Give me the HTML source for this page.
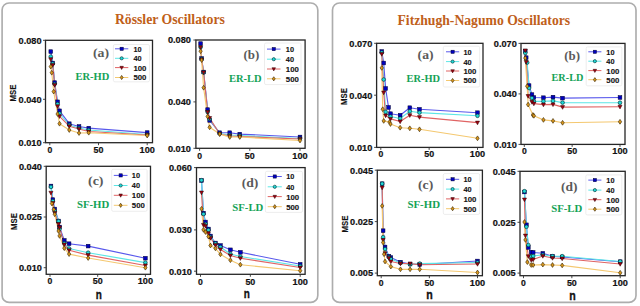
<!DOCTYPE html>
<html><head><meta charset="utf-8"><style>
html,body{margin:0;padding:0;background:#fff;width:640px;height:306px;overflow:hidden}
svg{display:block}
</style></head><body>
<svg width="640" height="306" viewBox="0 0 640 306">
<rect x="0" y="0" width="640" height="306" fill="#fff"/>
<rect x="2.1" y="2.95" width="315.7" height="299.45" rx="7" fill="none" stroke="#adadad" stroke-width="1.65"/>
<rect x="332.5" y="2.95" width="303.5" height="299.45" rx="7" fill="none" stroke="#adadad" stroke-width="1.65"/>
<text x="114.9" y="23.5" font-family='"Liberation Serif", serif' font-size="14.1" font-weight="bold" fill="#c0601a" textLength="110" lengthAdjust="spacingAndGlyphs">Rössler Oscillators</text>
<text x="397.5" y="25.2" font-family='"Liberation Serif", serif' font-size="14.1" font-weight="bold" fill="#c0601a" textLength="172.6" lengthAdjust="spacingAndGlyphs">Fitzhugh-Nagumo Oscillators</text>
<path d="M50.77,51.60 L52.72,63.00 L54.67,82.60 L57.59,101.80 L59.54,110.80 L69.28,123.70 L79.02,126.50 L88.76,128.10 L147.20,132.60" fill="none" stroke="#5858ec" stroke-width="1.15" stroke-linejoin="round"/>
<path d="M50.77,56.60 L52.72,63.60 L54.67,84.00 L57.59,104.00 L59.54,113.50 L69.28,125.00 L79.02,128.00 L88.76,130.00 L147.20,134.50" fill="none" stroke="#5ce6e6" stroke-width="1.15" stroke-linejoin="round"/>
<path d="M50.77,59.30 L52.72,65.00 L54.67,85.00 L57.59,106.20 L59.54,116.30 L69.28,126.20 L79.02,129.00 L88.76,131.50 L147.20,135.00" fill="none" stroke="#e06464" stroke-width="1.15" stroke-linejoin="round"/>
<path d="M50.77,66.60 L51.75,72.70 L53.70,91.60 L57.59,114.00 L59.54,123.70 L69.28,130.00 L79.02,133.00 L88.76,132.70 L147.20,135.50" fill="none" stroke="#f4c870" stroke-width="1.15" stroke-linejoin="round"/>
<rect x="48.92" y="49.75" width="3.70" height="3.70" fill="#0000c0" stroke="#000030" stroke-width="0.5"/>
<rect x="50.87" y="61.15" width="3.70" height="3.70" fill="#0000c0" stroke="#000030" stroke-width="0.5"/>
<rect x="52.82" y="80.75" width="3.70" height="3.70" fill="#0000c0" stroke="#000030" stroke-width="0.5"/>
<rect x="55.74" y="99.95" width="3.70" height="3.70" fill="#0000c0" stroke="#000030" stroke-width="0.5"/>
<rect x="57.69" y="108.95" width="3.70" height="3.70" fill="#0000c0" stroke="#000030" stroke-width="0.5"/>
<rect x="67.43" y="121.85" width="3.70" height="3.70" fill="#0000c0" stroke="#000030" stroke-width="0.5"/>
<rect x="77.17" y="124.65" width="3.70" height="3.70" fill="#0000c0" stroke="#000030" stroke-width="0.5"/>
<rect x="86.91" y="126.25" width="3.70" height="3.70" fill="#0000c0" stroke="#000030" stroke-width="0.5"/>
<rect x="145.35" y="130.75" width="3.70" height="3.70" fill="#0000c0" stroke="#000030" stroke-width="0.5"/>
<circle cx="50.77" cy="56.60" r="1.85" fill="#20d8d8" stroke="#002828" stroke-width="0.6"/>
<circle cx="52.72" cy="63.60" r="1.85" fill="#20d8d8" stroke="#002828" stroke-width="0.6"/>
<circle cx="54.67" cy="84.00" r="1.85" fill="#20d8d8" stroke="#002828" stroke-width="0.6"/>
<circle cx="57.59" cy="104.00" r="1.85" fill="#20d8d8" stroke="#002828" stroke-width="0.6"/>
<circle cx="59.54" cy="113.50" r="1.85" fill="#20d8d8" stroke="#002828" stroke-width="0.6"/>
<circle cx="69.28" cy="125.00" r="1.85" fill="#20d8d8" stroke="#002828" stroke-width="0.6"/>
<circle cx="79.02" cy="128.00" r="1.85" fill="#20d8d8" stroke="#002828" stroke-width="0.6"/>
<circle cx="88.76" cy="130.00" r="1.85" fill="#20d8d8" stroke="#002828" stroke-width="0.6"/>
<circle cx="147.20" cy="134.50" r="1.85" fill="#20d8d8" stroke="#002828" stroke-width="0.6"/>
<path d="M48.74,57.82 L52.81,57.82 L50.77,61.52 Z" fill="#a00010" stroke="#280000" stroke-width="0.5"/>
<path d="M50.69,63.52 L54.76,63.52 L52.72,67.22 Z" fill="#a00010" stroke="#280000" stroke-width="0.5"/>
<path d="M52.63,83.52 L56.70,83.52 L54.67,87.22 Z" fill="#a00010" stroke="#280000" stroke-width="0.5"/>
<path d="M55.56,104.72 L59.63,104.72 L57.59,108.42 Z" fill="#a00010" stroke="#280000" stroke-width="0.5"/>
<path d="M57.50,114.82 L61.58,114.82 L59.54,118.52 Z" fill="#a00010" stroke="#280000" stroke-width="0.5"/>
<path d="M67.25,124.72 L71.31,124.72 L69.28,128.42 Z" fill="#a00010" stroke="#280000" stroke-width="0.5"/>
<path d="M76.98,127.52 L81.05,127.52 L79.02,131.22 Z" fill="#a00010" stroke="#280000" stroke-width="0.5"/>
<path d="M86.72,130.02 L90.79,130.02 L88.76,133.72 Z" fill="#a00010" stroke="#280000" stroke-width="0.5"/>
<path d="M145.16,133.52 L149.23,133.52 L147.20,137.22 Z" fill="#a00010" stroke="#280000" stroke-width="0.5"/>
<path d="M50.77,64.19 L52.44,66.60 L50.77,69.00 L49.11,66.60 Z" fill="#d8961c" stroke="#302000" stroke-width="0.6"/>
<path d="M51.75,70.30 L53.41,72.70 L51.75,75.11 L50.08,72.70 Z" fill="#d8961c" stroke="#302000" stroke-width="0.6"/>
<path d="M53.70,89.19 L55.36,91.60 L53.70,94.00 L52.03,91.60 Z" fill="#d8961c" stroke="#302000" stroke-width="0.6"/>
<path d="M57.59,111.59 L59.26,114.00 L57.59,116.41 L55.93,114.00 Z" fill="#d8961c" stroke="#302000" stroke-width="0.6"/>
<path d="M59.54,121.30 L61.20,123.70 L59.54,126.11 L57.88,123.70 Z" fill="#d8961c" stroke="#302000" stroke-width="0.6"/>
<path d="M69.28,127.59 L70.95,130.00 L69.28,132.41 L67.61,130.00 Z" fill="#d8961c" stroke="#302000" stroke-width="0.6"/>
<path d="M79.02,130.59 L80.69,133.00 L79.02,135.41 L77.35,133.00 Z" fill="#d8961c" stroke="#302000" stroke-width="0.6"/>
<path d="M88.76,130.29 L90.42,132.70 L88.76,135.10 L87.09,132.70 Z" fill="#d8961c" stroke="#302000" stroke-width="0.6"/>
<path d="M147.20,133.09 L148.86,135.50 L147.20,137.91 L145.53,135.50 Z" fill="#d8961c" stroke="#302000" stroke-width="0.6"/>
<rect x="45.50" y="40.30" width="107.00" height="102.40" fill="none" stroke="#262626" stroke-width="1.3"/>
<line x1="49.80" y1="142.70" x2="49.80" y2="145.20" stroke="#333" stroke-width="0.9"/>
<text x="49.80" y="153.05" font-family='"Liberation Sans", sans-serif' font-size="8.3" font-weight="bold" fill="#111" text-anchor="middle" stroke="#111" stroke-width="0.18" textLength="4.80" lengthAdjust="spacingAndGlyphs" >0</text>
<line x1="98.50" y1="142.70" x2="98.50" y2="145.20" stroke="#333" stroke-width="0.9"/>
<text x="98.50" y="153.05" font-family='"Liberation Sans", sans-serif' font-size="8.3" font-weight="bold" fill="#111" text-anchor="middle" stroke="#111" stroke-width="0.18" textLength="9.90" lengthAdjust="spacingAndGlyphs" >50</text>
<line x1="147.20" y1="142.70" x2="147.20" y2="145.20" stroke="#333" stroke-width="0.9"/>
<text x="147.20" y="153.05" font-family='"Liberation Sans", sans-serif' font-size="8.3" font-weight="bold" fill="#111" text-anchor="middle" stroke="#111" stroke-width="0.18" textLength="15.30" lengthAdjust="spacingAndGlyphs" >100</text>
<line x1="43.00" y1="40.30" x2="45.50" y2="40.30" stroke="#333" stroke-width="0.9"/>
<text x="41.60" y="43.60" font-family='"Liberation Sans", sans-serif' font-size="8.3" font-weight="bold" fill="#111" text-anchor="end" stroke="#111" stroke-width="0.18" textLength="23.00" lengthAdjust="spacingAndGlyphs" >0.080</text>
<line x1="43.00" y1="99.30" x2="45.50" y2="99.30" stroke="#333" stroke-width="0.9"/>
<text x="41.60" y="102.60" font-family='"Liberation Sans", sans-serif' font-size="8.3" font-weight="bold" fill="#111" text-anchor="end" stroke="#111" stroke-width="0.18" textLength="23.00" lengthAdjust="spacingAndGlyphs" >0.040</text>
<line x1="43.00" y1="142.70" x2="45.50" y2="142.70" stroke="#333" stroke-width="0.9"/>
<text x="41.60" y="146.00" font-family='"Liberation Sans", sans-serif' font-size="8.3" font-weight="bold" fill="#111" text-anchor="end" stroke="#111" stroke-width="0.18" textLength="23.00" lengthAdjust="spacingAndGlyphs" >0.010</text>
<rect x="113.40" y="44.50" width="36.10" height="37.30" rx="1.5" fill="#fff" fill-opacity="0.85" stroke="#e8e8e8" stroke-width="0.8"/>
<line x1="115.00" y1="48.80" x2="128.30" y2="48.80" stroke="#5858ec" stroke-width="1"/>
<rect x="120.05" y="47.20" width="3.20" height="3.20" fill="#0000c0" stroke="#000030" stroke-width="0.5"/>
<text x="133.40" y="51.70" font-family='"Liberation Sans", sans-serif' font-size="8.1" font-weight="bold" fill="#111" text-anchor="start" stroke="#111" stroke-width="0.12" textLength="8.20" lengthAdjust="spacingAndGlyphs" >10</text>
<line x1="115.00" y1="58.30" x2="128.30" y2="58.30" stroke="#5ce6e6" stroke-width="1"/>
<circle cx="121.65" cy="58.30" r="1.60" fill="#20d8d8" stroke="#002828" stroke-width="0.6"/>
<text x="133.40" y="61.20" font-family='"Liberation Sans", sans-serif' font-size="8.1" font-weight="bold" fill="#111" text-anchor="start" stroke="#111" stroke-width="0.12" textLength="8.20" lengthAdjust="spacingAndGlyphs" >40</text>
<line x1="115.00" y1="67.60" x2="128.30" y2="67.60" stroke="#e06464" stroke-width="1"/>
<path d="M119.89,66.32 L123.41,66.32 L121.65,69.52 Z" fill="#a00010" stroke="#280000" stroke-width="0.5"/>
<text x="133.40" y="70.50" font-family='"Liberation Sans", sans-serif' font-size="8.1" font-weight="bold" fill="#111" text-anchor="start" stroke="#111" stroke-width="0.12" textLength="13.00" lengthAdjust="spacingAndGlyphs" >100</text>
<line x1="115.00" y1="77.50" x2="128.30" y2="77.50" stroke="#f4c870" stroke-width="1"/>
<path d="M121.65,75.42 L123.09,77.50 L121.65,79.58 L120.21,77.50 Z" fill="#d8961c" stroke="#302000" stroke-width="0.6"/>
<text x="133.40" y="80.40" font-family='"Liberation Sans", sans-serif' font-size="8.1" font-weight="bold" fill="#111" text-anchor="start" stroke="#111" stroke-width="0.12" textLength="13.00" lengthAdjust="spacingAndGlyphs" >500</text>
<text x="92.90" y="57.20" font-family='"Liberation Serif", serif' font-size="13" font-weight="bold" fill="#5a5a5a" text-anchor="start" textLength="16.10" lengthAdjust="spacingAndGlyphs" >(a)</text>
<text x="75.50" y="79.60" font-family='"Liberation Serif", serif' font-size="11.2" font-weight="bold" fill="#14a256" text-anchor="start" textLength="33.80" lengthAdjust="spacingAndGlyphs" >ER-HD</text>
<text x="0" y="0" transform="translate(15.50,93.00) rotate(-90)" font-family='"Liberation Sans", sans-serif' font-size="8.2" font-weight="bold" fill="#111" stroke="#111" stroke-width="0.15" text-anchor="middle" textLength="16.8" lengthAdjust="spacingAndGlyphs">MSE</text>
<path d="M200.60,43.60 L201.61,58.50 L203.62,72.00 L207.63,109.60 L209.64,120.40 L219.68,132.70 L229.72,132.70 L239.76,134.10 L300.00,137.00" fill="none" stroke="#5858ec" stroke-width="1.15" stroke-linejoin="round"/>
<path d="M200.60,47.20 L201.61,59.00 L203.62,72.40 L207.63,112.00 L209.64,119.00 L219.68,133.50 L229.72,135.00 L239.76,135.50 L300.00,138.50" fill="none" stroke="#5ce6e6" stroke-width="1.15" stroke-linejoin="round"/>
<path d="M200.60,47.20 L201.61,59.50 L203.62,72.40 L207.63,112.00 L209.64,118.00 L219.68,134.00 L229.72,136.00 L239.76,136.50 L300.00,139.00" fill="none" stroke="#e06464" stroke-width="1.15" stroke-linejoin="round"/>
<path d="M200.60,51.20 L201.61,60.10 L203.62,87.70 L207.63,116.50 L209.64,127.30 L219.68,134.10 L229.72,137.00 L239.76,137.00 L300.00,140.50" fill="none" stroke="#f4c870" stroke-width="1.15" stroke-linejoin="round"/>
<rect x="198.75" y="41.75" width="3.70" height="3.70" fill="#0000c0" stroke="#000030" stroke-width="0.5"/>
<rect x="199.76" y="56.65" width="3.70" height="3.70" fill="#0000c0" stroke="#000030" stroke-width="0.5"/>
<rect x="201.77" y="70.15" width="3.70" height="3.70" fill="#0000c0" stroke="#000030" stroke-width="0.5"/>
<rect x="205.78" y="107.75" width="3.70" height="3.70" fill="#0000c0" stroke="#000030" stroke-width="0.5"/>
<rect x="207.79" y="118.55" width="3.70" height="3.70" fill="#0000c0" stroke="#000030" stroke-width="0.5"/>
<rect x="217.83" y="130.85" width="3.70" height="3.70" fill="#0000c0" stroke="#000030" stroke-width="0.5"/>
<rect x="227.87" y="130.85" width="3.70" height="3.70" fill="#0000c0" stroke="#000030" stroke-width="0.5"/>
<rect x="237.91" y="132.25" width="3.70" height="3.70" fill="#0000c0" stroke="#000030" stroke-width="0.5"/>
<rect x="298.15" y="135.15" width="3.70" height="3.70" fill="#0000c0" stroke="#000030" stroke-width="0.5"/>
<circle cx="200.60" cy="47.20" r="1.85" fill="#20d8d8" stroke="#002828" stroke-width="0.6"/>
<circle cx="201.61" cy="59.00" r="1.85" fill="#20d8d8" stroke="#002828" stroke-width="0.6"/>
<circle cx="203.62" cy="72.40" r="1.85" fill="#20d8d8" stroke="#002828" stroke-width="0.6"/>
<circle cx="207.63" cy="112.00" r="1.85" fill="#20d8d8" stroke="#002828" stroke-width="0.6"/>
<circle cx="209.64" cy="119.00" r="1.85" fill="#20d8d8" stroke="#002828" stroke-width="0.6"/>
<circle cx="219.68" cy="133.50" r="1.85" fill="#20d8d8" stroke="#002828" stroke-width="0.6"/>
<circle cx="229.72" cy="135.00" r="1.85" fill="#20d8d8" stroke="#002828" stroke-width="0.6"/>
<circle cx="239.76" cy="135.50" r="1.85" fill="#20d8d8" stroke="#002828" stroke-width="0.6"/>
<circle cx="300.00" cy="138.50" r="1.85" fill="#20d8d8" stroke="#002828" stroke-width="0.6"/>
<path d="M198.57,45.72 L202.64,45.72 L200.60,49.42 Z" fill="#a00010" stroke="#280000" stroke-width="0.5"/>
<path d="M199.57,58.02 L203.64,58.02 L201.61,61.72 Z" fill="#a00010" stroke="#280000" stroke-width="0.5"/>
<path d="M201.58,70.92 L205.65,70.92 L203.62,74.62 Z" fill="#a00010" stroke="#280000" stroke-width="0.5"/>
<path d="M205.60,110.52 L209.67,110.52 L207.63,114.22 Z" fill="#a00010" stroke="#280000" stroke-width="0.5"/>
<path d="M207.60,116.52 L211.67,116.52 L209.64,120.22 Z" fill="#a00010" stroke="#280000" stroke-width="0.5"/>
<path d="M217.65,132.52 L221.72,132.52 L219.68,136.22 Z" fill="#a00010" stroke="#280000" stroke-width="0.5"/>
<path d="M227.69,134.52 L231.75,134.52 L229.72,138.22 Z" fill="#a00010" stroke="#280000" stroke-width="0.5"/>
<path d="M237.72,135.02 L241.79,135.02 L239.76,138.72 Z" fill="#a00010" stroke="#280000" stroke-width="0.5"/>
<path d="M297.96,137.52 L302.04,137.52 L300.00,141.22 Z" fill="#a00010" stroke="#280000" stroke-width="0.5"/>
<path d="M200.60,48.80 L202.27,51.20 L200.60,53.61 L198.94,51.20 Z" fill="#d8961c" stroke="#302000" stroke-width="0.6"/>
<path d="M201.61,57.70 L203.27,60.10 L201.61,62.51 L199.94,60.10 Z" fill="#d8961c" stroke="#302000" stroke-width="0.6"/>
<path d="M203.62,85.30 L205.28,87.70 L203.62,90.11 L201.95,87.70 Z" fill="#d8961c" stroke="#302000" stroke-width="0.6"/>
<path d="M207.63,114.09 L209.30,116.50 L207.63,118.91 L205.97,116.50 Z" fill="#d8961c" stroke="#302000" stroke-width="0.6"/>
<path d="M209.64,124.89 L211.30,127.30 L209.64,129.70 L207.97,127.30 Z" fill="#d8961c" stroke="#302000" stroke-width="0.6"/>
<path d="M219.68,131.69 L221.34,134.10 L219.68,136.50 L218.02,134.10 Z" fill="#d8961c" stroke="#302000" stroke-width="0.6"/>
<path d="M229.72,134.59 L231.38,137.00 L229.72,139.41 L228.06,137.00 Z" fill="#d8961c" stroke="#302000" stroke-width="0.6"/>
<path d="M239.76,134.59 L241.42,137.00 L239.76,139.41 L238.09,137.00 Z" fill="#d8961c" stroke="#302000" stroke-width="0.6"/>
<path d="M300.00,138.09 L301.67,140.50 L300.00,142.91 L298.33,140.50 Z" fill="#d8961c" stroke="#302000" stroke-width="0.6"/>
<rect x="195.90" y="40.00" width="109.20" height="108.30" fill="none" stroke="#262626" stroke-width="1.3"/>
<line x1="199.60" y1="148.30" x2="199.60" y2="150.80" stroke="#333" stroke-width="0.9"/>
<text x="199.60" y="158.65" font-family='"Liberation Sans", sans-serif' font-size="8.3" font-weight="bold" fill="#111" text-anchor="middle" stroke="#111" stroke-width="0.18" textLength="4.80" lengthAdjust="spacingAndGlyphs" >0</text>
<line x1="249.80" y1="148.30" x2="249.80" y2="150.80" stroke="#333" stroke-width="0.9"/>
<text x="249.80" y="158.65" font-family='"Liberation Sans", sans-serif' font-size="8.3" font-weight="bold" fill="#111" text-anchor="middle" stroke="#111" stroke-width="0.18" textLength="9.90" lengthAdjust="spacingAndGlyphs" >50</text>
<line x1="300.00" y1="148.30" x2="300.00" y2="150.80" stroke="#333" stroke-width="0.9"/>
<text x="300.00" y="158.65" font-family='"Liberation Sans", sans-serif' font-size="8.3" font-weight="bold" fill="#111" text-anchor="middle" stroke="#111" stroke-width="0.18" textLength="15.30" lengthAdjust="spacingAndGlyphs" >100</text>
<line x1="193.40" y1="40.00" x2="195.90" y2="40.00" stroke="#333" stroke-width="0.9"/>
<text x="190.90" y="43.30" font-family='"Liberation Sans", sans-serif' font-size="8.3" font-weight="bold" fill="#111" text-anchor="end" stroke="#111" stroke-width="0.18" textLength="23.00" lengthAdjust="spacingAndGlyphs" >0.080</text>
<line x1="193.40" y1="101.90" x2="195.90" y2="101.90" stroke="#333" stroke-width="0.9"/>
<text x="190.90" y="105.20" font-family='"Liberation Sans", sans-serif' font-size="8.3" font-weight="bold" fill="#111" text-anchor="end" stroke="#111" stroke-width="0.18" textLength="23.00" lengthAdjust="spacingAndGlyphs" >0.040</text>
<line x1="193.40" y1="148.30" x2="195.90" y2="148.30" stroke="#333" stroke-width="0.9"/>
<text x="190.90" y="151.60" font-family='"Liberation Sans", sans-serif' font-size="8.3" font-weight="bold" fill="#111" text-anchor="end" stroke="#111" stroke-width="0.18" textLength="23.00" lengthAdjust="spacingAndGlyphs" >0.010</text>
<rect x="264.50" y="43.00" width="36.50" height="41.60" rx="1.5" fill="#fff" fill-opacity="0.85" stroke="#e8e8e8" stroke-width="0.8"/>
<line x1="267.00" y1="49.10" x2="280.50" y2="49.10" stroke="#5858ec" stroke-width="1"/>
<rect x="272.15" y="47.50" width="3.20" height="3.20" fill="#0000c0" stroke="#000030" stroke-width="0.5"/>
<text x="285.80" y="52.00" font-family='"Liberation Sans", sans-serif' font-size="8.1" font-weight="bold" fill="#111" text-anchor="start" stroke="#111" stroke-width="0.12" textLength="8.20" lengthAdjust="spacingAndGlyphs" >10</text>
<line x1="267.00" y1="59.20" x2="280.50" y2="59.20" stroke="#5ce6e6" stroke-width="1"/>
<circle cx="273.75" cy="59.20" r="1.60" fill="#20d8d8" stroke="#002828" stroke-width="0.6"/>
<text x="285.80" y="62.10" font-family='"Liberation Sans", sans-serif' font-size="8.1" font-weight="bold" fill="#111" text-anchor="start" stroke="#111" stroke-width="0.12" textLength="8.20" lengthAdjust="spacingAndGlyphs" >40</text>
<line x1="267.00" y1="69.00" x2="280.50" y2="69.00" stroke="#e06464" stroke-width="1"/>
<path d="M271.99,67.72 L275.51,67.72 L273.75,70.92 Z" fill="#a00010" stroke="#280000" stroke-width="0.5"/>
<text x="285.80" y="71.90" font-family='"Liberation Sans", sans-serif' font-size="8.1" font-weight="bold" fill="#111" text-anchor="start" stroke="#111" stroke-width="0.12" textLength="13.00" lengthAdjust="spacingAndGlyphs" >100</text>
<line x1="267.00" y1="78.80" x2="280.50" y2="78.80" stroke="#f4c870" stroke-width="1"/>
<path d="M273.75,76.72 L275.19,78.80 L273.75,80.88 L272.31,78.80 Z" fill="#d8961c" stroke="#302000" stroke-width="0.6"/>
<text x="285.80" y="81.70" font-family='"Liberation Sans", sans-serif' font-size="8.1" font-weight="bold" fill="#111" text-anchor="start" stroke="#111" stroke-width="0.12" textLength="13.00" lengthAdjust="spacingAndGlyphs" >500</text>
<text x="243.40" y="58.70" font-family='"Liberation Serif", serif' font-size="13" font-weight="bold" fill="#5a5a5a" text-anchor="start" textLength="15.80" lengthAdjust="spacingAndGlyphs" >(b)</text>
<text x="229.00" y="82.10" font-family='"Liberation Serif", serif' font-size="11.2" font-weight="bold" fill="#14a256" text-anchor="start" textLength="32.70" lengthAdjust="spacingAndGlyphs" >ER-LD</text>
<path d="M50.95,186.00 L52.86,199.60 L54.77,209.00 L58.59,221.00 L59.54,227.00 L64.31,240.40 L69.08,243.70 L88.16,246.10 L145.40,258.20" fill="none" stroke="#5858ec" stroke-width="1.15" stroke-linejoin="round"/>
<path d="M50.95,186.90 L52.86,201.00 L54.77,211.00 L58.59,221.20 L59.54,229.00 L64.31,243.30 L69.08,248.50 L88.16,252.70 L145.40,262.60" fill="none" stroke="#5ce6e6" stroke-width="1.15" stroke-linejoin="round"/>
<path d="M50.95,192.70 L52.86,203.00 L54.77,213.00 L58.59,224.00 L59.54,227.50 L64.31,244.50 L69.08,250.20 L88.16,255.10 L145.40,265.50" fill="none" stroke="#e06464" stroke-width="1.15" stroke-linejoin="round"/>
<path d="M51.91,203.50 L53.82,209.40 L54.77,214.30 L58.59,231.00 L59.54,235.90 L64.31,248.20 L69.08,254.10 L88.16,258.00 L145.40,267.70" fill="none" stroke="#f4c870" stroke-width="1.15" stroke-linejoin="round"/>
<rect x="49.10" y="184.15" width="3.70" height="3.70" fill="#0000c0" stroke="#000030" stroke-width="0.5"/>
<rect x="51.01" y="197.75" width="3.70" height="3.70" fill="#0000c0" stroke="#000030" stroke-width="0.5"/>
<rect x="52.92" y="207.15" width="3.70" height="3.70" fill="#0000c0" stroke="#000030" stroke-width="0.5"/>
<rect x="56.74" y="219.15" width="3.70" height="3.70" fill="#0000c0" stroke="#000030" stroke-width="0.5"/>
<rect x="57.69" y="225.15" width="3.70" height="3.70" fill="#0000c0" stroke="#000030" stroke-width="0.5"/>
<rect x="62.46" y="238.55" width="3.70" height="3.70" fill="#0000c0" stroke="#000030" stroke-width="0.5"/>
<rect x="67.23" y="241.85" width="3.70" height="3.70" fill="#0000c0" stroke="#000030" stroke-width="0.5"/>
<rect x="86.31" y="244.25" width="3.70" height="3.70" fill="#0000c0" stroke="#000030" stroke-width="0.5"/>
<rect x="143.55" y="256.35" width="3.70" height="3.70" fill="#0000c0" stroke="#000030" stroke-width="0.5"/>
<circle cx="50.95" cy="186.90" r="1.85" fill="#20d8d8" stroke="#002828" stroke-width="0.6"/>
<circle cx="52.86" cy="201.00" r="1.85" fill="#20d8d8" stroke="#002828" stroke-width="0.6"/>
<circle cx="54.77" cy="211.00" r="1.85" fill="#20d8d8" stroke="#002828" stroke-width="0.6"/>
<circle cx="58.59" cy="221.20" r="1.85" fill="#20d8d8" stroke="#002828" stroke-width="0.6"/>
<circle cx="59.54" cy="229.00" r="1.85" fill="#20d8d8" stroke="#002828" stroke-width="0.6"/>
<circle cx="64.31" cy="243.30" r="1.85" fill="#20d8d8" stroke="#002828" stroke-width="0.6"/>
<circle cx="69.08" cy="248.50" r="1.85" fill="#20d8d8" stroke="#002828" stroke-width="0.6"/>
<circle cx="88.16" cy="252.70" r="1.85" fill="#20d8d8" stroke="#002828" stroke-width="0.6"/>
<circle cx="145.40" cy="262.60" r="1.85" fill="#20d8d8" stroke="#002828" stroke-width="0.6"/>
<path d="M48.92,191.22 L52.99,191.22 L50.95,194.92 Z" fill="#a00010" stroke="#280000" stroke-width="0.5"/>
<path d="M50.83,201.52 L54.90,201.52 L52.86,205.22 Z" fill="#a00010" stroke="#280000" stroke-width="0.5"/>
<path d="M52.73,211.52 L56.81,211.52 L54.77,215.22 Z" fill="#a00010" stroke="#280000" stroke-width="0.5"/>
<path d="M56.55,222.52 L60.62,222.52 L58.59,226.22 Z" fill="#a00010" stroke="#280000" stroke-width="0.5"/>
<path d="M57.50,226.02 L61.58,226.02 L59.54,229.72 Z" fill="#a00010" stroke="#280000" stroke-width="0.5"/>
<path d="M62.28,243.02 L66.34,243.02 L64.31,246.72 Z" fill="#a00010" stroke="#280000" stroke-width="0.5"/>
<path d="M67.05,248.72 L71.11,248.72 L69.08,252.42 Z" fill="#a00010" stroke="#280000" stroke-width="0.5"/>
<path d="M86.12,253.62 L90.19,253.62 L88.16,257.32 Z" fill="#a00010" stroke="#280000" stroke-width="0.5"/>
<path d="M143.37,264.02 L147.44,264.02 L145.40,267.72 Z" fill="#a00010" stroke="#280000" stroke-width="0.5"/>
<path d="M51.91,201.09 L53.57,203.50 L51.91,205.91 L50.24,203.50 Z" fill="#d8961c" stroke="#302000" stroke-width="0.6"/>
<path d="M53.82,207.00 L55.48,209.40 L53.82,211.81 L52.15,209.40 Z" fill="#d8961c" stroke="#302000" stroke-width="0.6"/>
<path d="M54.77,211.90 L56.44,214.30 L54.77,216.71 L53.11,214.30 Z" fill="#d8961c" stroke="#302000" stroke-width="0.6"/>
<path d="M58.59,228.59 L60.25,231.00 L58.59,233.41 L56.92,231.00 Z" fill="#d8961c" stroke="#302000" stroke-width="0.6"/>
<path d="M59.54,233.50 L61.20,235.90 L59.54,238.31 L57.88,235.90 Z" fill="#d8961c" stroke="#302000" stroke-width="0.6"/>
<path d="M64.31,245.79 L65.98,248.20 L64.31,250.60 L62.65,248.20 Z" fill="#d8961c" stroke="#302000" stroke-width="0.6"/>
<path d="M69.08,251.69 L70.75,254.10 L69.08,256.50 L67.41,254.10 Z" fill="#d8961c" stroke="#302000" stroke-width="0.6"/>
<path d="M88.16,255.59 L89.83,258.00 L88.16,260.40 L86.49,258.00 Z" fill="#d8961c" stroke="#302000" stroke-width="0.6"/>
<path d="M145.40,265.30 L147.06,267.70 L145.40,270.10 L143.74,267.70 Z" fill="#d8961c" stroke="#302000" stroke-width="0.6"/>
<rect x="46.20" y="166.30" width="104.30" height="108.00" fill="none" stroke="#262626" stroke-width="1.3"/>
<line x1="50.00" y1="274.30" x2="50.00" y2="276.80" stroke="#333" stroke-width="0.9"/>
<text x="50.00" y="284.45" font-family='"Liberation Sans", sans-serif' font-size="8.3" font-weight="bold" fill="#111" text-anchor="middle" stroke="#111" stroke-width="0.18" textLength="4.80" lengthAdjust="spacingAndGlyphs" >0</text>
<line x1="97.70" y1="274.30" x2="97.70" y2="276.80" stroke="#333" stroke-width="0.9"/>
<text x="97.70" y="284.45" font-family='"Liberation Sans", sans-serif' font-size="8.3" font-weight="bold" fill="#111" text-anchor="middle" stroke="#111" stroke-width="0.18" textLength="9.90" lengthAdjust="spacingAndGlyphs" >50</text>
<line x1="145.40" y1="274.30" x2="145.40" y2="276.80" stroke="#333" stroke-width="0.9"/>
<text x="145.40" y="284.45" font-family='"Liberation Sans", sans-serif' font-size="8.3" font-weight="bold" fill="#111" text-anchor="middle" stroke="#111" stroke-width="0.18" textLength="15.30" lengthAdjust="spacingAndGlyphs" >100</text>
<line x1="43.70" y1="166.30" x2="46.20" y2="166.30" stroke="#333" stroke-width="0.9"/>
<text x="41.90" y="169.60" font-family='"Liberation Sans", sans-serif' font-size="8.3" font-weight="bold" fill="#111" text-anchor="end" stroke="#111" stroke-width="0.18" textLength="23.00" lengthAdjust="spacingAndGlyphs" >0.040</text>
<line x1="43.70" y1="217.00" x2="46.20" y2="217.00" stroke="#333" stroke-width="0.9"/>
<text x="41.90" y="220.30" font-family='"Liberation Sans", sans-serif' font-size="8.3" font-weight="bold" fill="#111" text-anchor="end" stroke="#111" stroke-width="0.18" textLength="23.00" lengthAdjust="spacingAndGlyphs" >0.025</text>
<line x1="43.70" y1="267.70" x2="46.20" y2="267.70" stroke="#333" stroke-width="0.9"/>
<text x="41.90" y="271.00" font-family='"Liberation Sans", sans-serif' font-size="8.3" font-weight="bold" fill="#111" text-anchor="end" stroke="#111" stroke-width="0.18" textLength="23.00" lengthAdjust="spacingAndGlyphs" >0.010</text>
<rect x="111.70" y="169.30" width="35.40" height="42.00" rx="1.5" fill="#fff" fill-opacity="0.85" stroke="#e8e8e8" stroke-width="0.8"/>
<line x1="113.80" y1="175.40" x2="127.50" y2="175.40" stroke="#5858ec" stroke-width="1"/>
<rect x="119.05" y="173.80" width="3.20" height="3.20" fill="#0000c0" stroke="#000030" stroke-width="0.5"/>
<text x="131.80" y="178.30" font-family='"Liberation Sans", sans-serif' font-size="8.1" font-weight="bold" fill="#111" text-anchor="start" stroke="#111" stroke-width="0.12" textLength="8.20" lengthAdjust="spacingAndGlyphs" >10</text>
<line x1="113.80" y1="185.50" x2="127.50" y2="185.50" stroke="#5ce6e6" stroke-width="1"/>
<circle cx="120.65" cy="185.50" r="1.60" fill="#20d8d8" stroke="#002828" stroke-width="0.6"/>
<text x="131.80" y="188.40" font-family='"Liberation Sans", sans-serif' font-size="8.1" font-weight="bold" fill="#111" text-anchor="start" stroke="#111" stroke-width="0.12" textLength="8.20" lengthAdjust="spacingAndGlyphs" >40</text>
<line x1="113.80" y1="195.30" x2="127.50" y2="195.30" stroke="#e06464" stroke-width="1"/>
<path d="M118.89,194.02 L122.41,194.02 L120.65,197.22 Z" fill="#a00010" stroke="#280000" stroke-width="0.5"/>
<text x="131.80" y="198.20" font-family='"Liberation Sans", sans-serif' font-size="8.1" font-weight="bold" fill="#111" text-anchor="start" stroke="#111" stroke-width="0.12" textLength="13.00" lengthAdjust="spacingAndGlyphs" >100</text>
<line x1="113.80" y1="205.30" x2="127.50" y2="205.30" stroke="#f4c870" stroke-width="1"/>
<path d="M120.65,203.22 L122.09,205.30 L120.65,207.38 L119.21,205.30 Z" fill="#d8961c" stroke="#302000" stroke-width="0.6"/>
<text x="131.80" y="208.20" font-family='"Liberation Sans", sans-serif' font-size="8.1" font-weight="bold" fill="#111" text-anchor="start" stroke="#111" stroke-width="0.12" textLength="13.00" lengthAdjust="spacingAndGlyphs" >500</text>
<text x="88.00" y="185.10" font-family='"Liberation Serif", serif' font-size="13" font-weight="bold" fill="#5a5a5a" text-anchor="start" textLength="15.50" lengthAdjust="spacingAndGlyphs" >(c)</text>
<text x="76.90" y="208.00" font-family='"Liberation Serif", serif' font-size="11.2" font-weight="bold" fill="#14a256" text-anchor="start" textLength="32.30" lengthAdjust="spacingAndGlyphs" >SF-HD</text>
<text x="0" y="0" transform="translate(16.70,221.60) rotate(-90)" font-family='"Liberation Sans", sans-serif' font-size="8.2" font-weight="bold" fill="#111" stroke="#111" stroke-width="0.15" text-anchor="middle" textLength="16.8" lengthAdjust="spacingAndGlyphs">MSE</text>
<text x="98.80" y="298.90" font-family='"Liberation Sans", sans-serif' font-size="13.6" font-weight="bold" fill="#111" text-anchor="middle" stroke="#111" stroke-width="0.4" textLength="6.10" lengthAdjust="spacingAndGlyphs" >n</text>
<path d="M201.50,180.50 L203.49,213.10 L205.49,222.00 L208.48,229.00 L210.47,236.00 L215.45,243.00 L220.44,245.50 L230.41,249.80 L240.38,252.30 L300.20,264.30" fill="none" stroke="#5858ec" stroke-width="1.15" stroke-linejoin="round"/>
<path d="M201.50,180.20 L203.49,214.00 L205.49,224.00 L208.48,230.00 L210.47,237.00 L215.45,243.50 L220.44,247.00 L230.41,254.00 L240.38,256.50 L300.20,266.00" fill="none" stroke="#5ce6e6" stroke-width="1.15" stroke-linejoin="round"/>
<path d="M201.50,192.50 L203.49,224.90 L205.49,226.00 L208.48,233.30 L210.47,238.00 L215.45,245.00 L220.44,249.40 L230.41,255.50 L240.38,258.20 L300.20,267.50" fill="none" stroke="#e06464" stroke-width="1.15" stroke-linejoin="round"/>
<path d="M201.50,208.80 L203.49,229.80 L205.49,232.00 L208.48,236.60 L210.47,245.50 L215.45,248.40 L220.44,254.30 L230.41,260.20 L240.38,264.70 L300.20,270.70" fill="none" stroke="#f4c870" stroke-width="1.15" stroke-linejoin="round"/>
<rect x="199.65" y="178.65" width="3.70" height="3.70" fill="#0000c0" stroke="#000030" stroke-width="0.5"/>
<rect x="201.64" y="211.25" width="3.70" height="3.70" fill="#0000c0" stroke="#000030" stroke-width="0.5"/>
<rect x="203.64" y="220.15" width="3.70" height="3.70" fill="#0000c0" stroke="#000030" stroke-width="0.5"/>
<rect x="206.63" y="227.15" width="3.70" height="3.70" fill="#0000c0" stroke="#000030" stroke-width="0.5"/>
<rect x="208.62" y="234.15" width="3.70" height="3.70" fill="#0000c0" stroke="#000030" stroke-width="0.5"/>
<rect x="213.60" y="241.15" width="3.70" height="3.70" fill="#0000c0" stroke="#000030" stroke-width="0.5"/>
<rect x="218.59" y="243.65" width="3.70" height="3.70" fill="#0000c0" stroke="#000030" stroke-width="0.5"/>
<rect x="228.56" y="247.95" width="3.70" height="3.70" fill="#0000c0" stroke="#000030" stroke-width="0.5"/>
<rect x="238.53" y="250.45" width="3.70" height="3.70" fill="#0000c0" stroke="#000030" stroke-width="0.5"/>
<rect x="298.35" y="262.45" width="3.70" height="3.70" fill="#0000c0" stroke="#000030" stroke-width="0.5"/>
<circle cx="201.50" cy="180.20" r="1.85" fill="#20d8d8" stroke="#002828" stroke-width="0.6"/>
<circle cx="203.49" cy="214.00" r="1.85" fill="#20d8d8" stroke="#002828" stroke-width="0.6"/>
<circle cx="205.49" cy="224.00" r="1.85" fill="#20d8d8" stroke="#002828" stroke-width="0.6"/>
<circle cx="208.48" cy="230.00" r="1.85" fill="#20d8d8" stroke="#002828" stroke-width="0.6"/>
<circle cx="210.47" cy="237.00" r="1.85" fill="#20d8d8" stroke="#002828" stroke-width="0.6"/>
<circle cx="215.45" cy="243.50" r="1.85" fill="#20d8d8" stroke="#002828" stroke-width="0.6"/>
<circle cx="220.44" cy="247.00" r="1.85" fill="#20d8d8" stroke="#002828" stroke-width="0.6"/>
<circle cx="230.41" cy="254.00" r="1.85" fill="#20d8d8" stroke="#002828" stroke-width="0.6"/>
<circle cx="240.38" cy="256.50" r="1.85" fill="#20d8d8" stroke="#002828" stroke-width="0.6"/>
<circle cx="300.20" cy="266.00" r="1.85" fill="#20d8d8" stroke="#002828" stroke-width="0.6"/>
<path d="M199.46,191.02 L203.53,191.02 L201.50,194.72 Z" fill="#a00010" stroke="#280000" stroke-width="0.5"/>
<path d="M201.46,223.42 L205.53,223.42 L203.49,227.12 Z" fill="#a00010" stroke="#280000" stroke-width="0.5"/>
<path d="M203.45,224.52 L207.52,224.52 L205.49,228.22 Z" fill="#a00010" stroke="#280000" stroke-width="0.5"/>
<path d="M206.44,231.82 L210.51,231.82 L208.48,235.52 Z" fill="#a00010" stroke="#280000" stroke-width="0.5"/>
<path d="M208.44,236.52 L212.50,236.52 L210.47,240.22 Z" fill="#a00010" stroke="#280000" stroke-width="0.5"/>
<path d="M213.42,243.52 L217.49,243.52 L215.45,247.22 Z" fill="#a00010" stroke="#280000" stroke-width="0.5"/>
<path d="M218.41,247.92 L222.47,247.92 L220.44,251.62 Z" fill="#a00010" stroke="#280000" stroke-width="0.5"/>
<path d="M228.38,254.02 L232.44,254.02 L230.41,257.72 Z" fill="#a00010" stroke="#280000" stroke-width="0.5"/>
<path d="M238.34,256.72 L242.41,256.72 L240.38,260.42 Z" fill="#a00010" stroke="#280000" stroke-width="0.5"/>
<path d="M298.16,266.02 L302.24,266.02 L300.20,269.72 Z" fill="#a00010" stroke="#280000" stroke-width="0.5"/>
<path d="M201.50,206.40 L203.16,208.80 L201.50,211.21 L199.83,208.80 Z" fill="#d8961c" stroke="#302000" stroke-width="0.6"/>
<path d="M203.49,227.40 L205.16,229.80 L203.49,232.21 L201.83,229.80 Z" fill="#d8961c" stroke="#302000" stroke-width="0.6"/>
<path d="M205.49,229.59 L207.15,232.00 L205.49,234.41 L203.82,232.00 Z" fill="#d8961c" stroke="#302000" stroke-width="0.6"/>
<path d="M208.48,234.19 L210.14,236.60 L208.48,239.00 L206.81,236.60 Z" fill="#d8961c" stroke="#302000" stroke-width="0.6"/>
<path d="M210.47,243.09 L212.13,245.50 L210.47,247.91 L208.81,245.50 Z" fill="#d8961c" stroke="#302000" stroke-width="0.6"/>
<path d="M215.45,246.00 L217.12,248.40 L215.45,250.81 L213.79,248.40 Z" fill="#d8961c" stroke="#302000" stroke-width="0.6"/>
<path d="M220.44,251.90 L222.10,254.30 L220.44,256.70 L218.78,254.30 Z" fill="#d8961c" stroke="#302000" stroke-width="0.6"/>
<path d="M230.41,257.80 L232.07,260.20 L230.41,262.60 L228.75,260.20 Z" fill="#d8961c" stroke="#302000" stroke-width="0.6"/>
<path d="M240.38,262.30 L242.04,264.70 L240.38,267.10 L238.72,264.70 Z" fill="#d8961c" stroke="#302000" stroke-width="0.6"/>
<path d="M300.20,268.30 L301.87,270.70 L300.20,273.10 L298.53,270.70 Z" fill="#d8961c" stroke="#302000" stroke-width="0.6"/>
<rect x="196.50" y="167.60" width="108.60" height="106.70" fill="none" stroke="#262626" stroke-width="1.3"/>
<line x1="200.50" y1="274.30" x2="200.50" y2="276.80" stroke="#333" stroke-width="0.9"/>
<text x="200.50" y="284.80" font-family='"Liberation Sans", sans-serif' font-size="8.3" font-weight="bold" fill="#111" text-anchor="middle" stroke="#111" stroke-width="0.18" textLength="4.80" lengthAdjust="spacingAndGlyphs" >0</text>
<line x1="250.35" y1="274.30" x2="250.35" y2="276.80" stroke="#333" stroke-width="0.9"/>
<text x="250.35" y="284.80" font-family='"Liberation Sans", sans-serif' font-size="8.3" font-weight="bold" fill="#111" text-anchor="middle" stroke="#111" stroke-width="0.18" textLength="9.90" lengthAdjust="spacingAndGlyphs" >50</text>
<line x1="300.20" y1="274.30" x2="300.20" y2="276.80" stroke="#333" stroke-width="0.9"/>
<text x="300.20" y="284.80" font-family='"Liberation Sans", sans-serif' font-size="8.3" font-weight="bold" fill="#111" text-anchor="middle" stroke="#111" stroke-width="0.18" textLength="15.30" lengthAdjust="spacingAndGlyphs" >100</text>
<line x1="194.00" y1="167.60" x2="196.50" y2="167.60" stroke="#333" stroke-width="0.9"/>
<text x="191.90" y="170.90" font-family='"Liberation Sans", sans-serif' font-size="8.3" font-weight="bold" fill="#111" text-anchor="end" stroke="#111" stroke-width="0.18" textLength="23.00" lengthAdjust="spacingAndGlyphs" >0.060</text>
<line x1="194.00" y1="229.90" x2="196.50" y2="229.90" stroke="#333" stroke-width="0.9"/>
<text x="191.90" y="233.20" font-family='"Liberation Sans", sans-serif' font-size="8.3" font-weight="bold" fill="#111" text-anchor="end" stroke="#111" stroke-width="0.18" textLength="23.00" lengthAdjust="spacingAndGlyphs" >0.030</text>
<line x1="194.00" y1="271.20" x2="196.50" y2="271.20" stroke="#333" stroke-width="0.9"/>
<text x="191.90" y="274.50" font-family='"Liberation Sans", sans-serif' font-size="8.3" font-weight="bold" fill="#111" text-anchor="end" stroke="#111" stroke-width="0.18" textLength="23.00" lengthAdjust="spacingAndGlyphs" >0.010</text>
<rect x="265.40" y="171.30" width="37.10" height="41.10" rx="1.5" fill="#fff" fill-opacity="0.85" stroke="#e8e8e8" stroke-width="0.8"/>
<line x1="267.70" y1="176.50" x2="281.80" y2="176.50" stroke="#5858ec" stroke-width="1"/>
<rect x="273.15" y="174.90" width="3.20" height="3.20" fill="#0000c0" stroke="#000030" stroke-width="0.5"/>
<text x="286.20" y="179.40" font-family='"Liberation Sans", sans-serif' font-size="8.1" font-weight="bold" fill="#111" text-anchor="start" stroke="#111" stroke-width="0.12" textLength="8.20" lengthAdjust="spacingAndGlyphs" >10</text>
<line x1="267.70" y1="186.80" x2="281.80" y2="186.80" stroke="#5ce6e6" stroke-width="1"/>
<circle cx="274.75" cy="186.80" r="1.60" fill="#20d8d8" stroke="#002828" stroke-width="0.6"/>
<text x="286.20" y="189.70" font-family='"Liberation Sans", sans-serif' font-size="8.1" font-weight="bold" fill="#111" text-anchor="start" stroke="#111" stroke-width="0.12" textLength="8.20" lengthAdjust="spacingAndGlyphs" >40</text>
<line x1="267.70" y1="196.60" x2="281.80" y2="196.60" stroke="#e06464" stroke-width="1"/>
<path d="M272.99,195.32 L276.51,195.32 L274.75,198.52 Z" fill="#a00010" stroke="#280000" stroke-width="0.5"/>
<text x="286.20" y="199.50" font-family='"Liberation Sans", sans-serif' font-size="8.1" font-weight="bold" fill="#111" text-anchor="start" stroke="#111" stroke-width="0.12" textLength="13.00" lengthAdjust="spacingAndGlyphs" >100</text>
<line x1="267.70" y1="206.70" x2="281.80" y2="206.70" stroke="#f4c870" stroke-width="1"/>
<path d="M274.75,204.62 L276.19,206.70 L274.75,208.78 L273.31,206.70 Z" fill="#d8961c" stroke="#302000" stroke-width="0.6"/>
<text x="286.20" y="209.60" font-family='"Liberation Sans", sans-serif' font-size="8.1" font-weight="bold" fill="#111" text-anchor="start" stroke="#111" stroke-width="0.12" textLength="13.00" lengthAdjust="spacingAndGlyphs" >500</text>
<text x="241.70" y="187.10" font-family='"Liberation Serif", serif' font-size="13" font-weight="bold" fill="#5a5a5a" text-anchor="start" textLength="16.70" lengthAdjust="spacingAndGlyphs" >(d)</text>
<text x="232.30" y="210.50" font-family='"Liberation Serif", serif' font-size="11.2" font-weight="bold" fill="#14a256" text-anchor="start" textLength="31.00" lengthAdjust="spacingAndGlyphs" >SF-LD</text>
<text x="246.90" y="298.40" font-family='"Liberation Sans", sans-serif' font-size="13.6" font-weight="bold" fill="#111" text-anchor="middle" stroke="#111" stroke-width="0.4" textLength="6.10" lengthAdjust="spacingAndGlyphs" >n</text>
<path d="M381.77,51.50 L383.70,63.00 L385.63,88.50 L388.54,107.40 L390.47,113.70 L400.14,115.20 L409.81,107.70 L419.48,109.30 L477.50,112.70" fill="none" stroke="#5858ec" stroke-width="1.15" stroke-linejoin="round"/>
<path d="M381.77,52.50 L383.70,79.50 L385.63,111.90 L390.47,116.50 L400.14,118.50 L409.81,111.30 L419.48,112.60 L477.50,115.80" fill="none" stroke="#5ce6e6" stroke-width="1.15" stroke-linejoin="round"/>
<path d="M381.77,54.00 L383.70,92.60 L385.63,115.50 L390.47,118.90 L400.14,121.50 L409.81,115.20 L419.48,117.10 L477.50,122.60" fill="none" stroke="#e06464" stroke-width="1.15" stroke-linejoin="round"/>
<path d="M381.77,67.90 L382.73,109.20 L383.70,120.90 L389.50,122.10 L390.47,124.00 L400.14,127.70 L409.81,128.30 L419.48,129.30 L477.50,138.30" fill="none" stroke="#f4c870" stroke-width="1.15" stroke-linejoin="round"/>
<rect x="379.92" y="49.65" width="3.70" height="3.70" fill="#0000c0" stroke="#000030" stroke-width="0.5"/>
<rect x="381.85" y="61.15" width="3.70" height="3.70" fill="#0000c0" stroke="#000030" stroke-width="0.5"/>
<rect x="383.78" y="86.65" width="3.70" height="3.70" fill="#0000c0" stroke="#000030" stroke-width="0.5"/>
<rect x="386.69" y="105.55" width="3.70" height="3.70" fill="#0000c0" stroke="#000030" stroke-width="0.5"/>
<rect x="388.62" y="111.85" width="3.70" height="3.70" fill="#0000c0" stroke="#000030" stroke-width="0.5"/>
<rect x="398.29" y="113.35" width="3.70" height="3.70" fill="#0000c0" stroke="#000030" stroke-width="0.5"/>
<rect x="407.96" y="105.85" width="3.70" height="3.70" fill="#0000c0" stroke="#000030" stroke-width="0.5"/>
<rect x="417.63" y="107.45" width="3.70" height="3.70" fill="#0000c0" stroke="#000030" stroke-width="0.5"/>
<rect x="475.65" y="110.85" width="3.70" height="3.70" fill="#0000c0" stroke="#000030" stroke-width="0.5"/>
<circle cx="381.77" cy="52.50" r="1.85" fill="#20d8d8" stroke="#002828" stroke-width="0.6"/>
<circle cx="383.70" cy="79.50" r="1.85" fill="#20d8d8" stroke="#002828" stroke-width="0.6"/>
<circle cx="385.63" cy="111.90" r="1.85" fill="#20d8d8" stroke="#002828" stroke-width="0.6"/>
<circle cx="390.47" cy="116.50" r="1.85" fill="#20d8d8" stroke="#002828" stroke-width="0.6"/>
<circle cx="400.14" cy="118.50" r="1.85" fill="#20d8d8" stroke="#002828" stroke-width="0.6"/>
<circle cx="409.81" cy="111.30" r="1.85" fill="#20d8d8" stroke="#002828" stroke-width="0.6"/>
<circle cx="419.48" cy="112.60" r="1.85" fill="#20d8d8" stroke="#002828" stroke-width="0.6"/>
<circle cx="477.50" cy="115.80" r="1.85" fill="#20d8d8" stroke="#002828" stroke-width="0.6"/>
<path d="M379.73,52.52 L383.80,52.52 L381.77,56.22 Z" fill="#a00010" stroke="#280000" stroke-width="0.5"/>
<path d="M381.67,91.12 L385.74,91.12 L383.70,94.82 Z" fill="#a00010" stroke="#280000" stroke-width="0.5"/>
<path d="M383.60,114.02 L387.67,114.02 L385.63,117.72 Z" fill="#a00010" stroke="#280000" stroke-width="0.5"/>
<path d="M388.44,117.42 L392.51,117.42 L390.47,121.12 Z" fill="#a00010" stroke="#280000" stroke-width="0.5"/>
<path d="M398.10,120.02 L402.18,120.02 L400.14,123.72 Z" fill="#a00010" stroke="#280000" stroke-width="0.5"/>
<path d="M407.77,113.72 L411.85,113.72 L409.81,117.42 Z" fill="#a00010" stroke="#280000" stroke-width="0.5"/>
<path d="M417.44,115.62 L421.52,115.62 L419.48,119.32 Z" fill="#a00010" stroke="#280000" stroke-width="0.5"/>
<path d="M475.46,121.12 L479.54,121.12 L477.50,124.82 Z" fill="#a00010" stroke="#280000" stroke-width="0.5"/>
<path d="M381.77,65.50 L383.43,67.90 L381.77,70.31 L380.10,67.90 Z" fill="#d8961c" stroke="#302000" stroke-width="0.6"/>
<path d="M382.73,106.80 L384.40,109.20 L382.73,111.61 L381.07,109.20 Z" fill="#d8961c" stroke="#302000" stroke-width="0.6"/>
<path d="M383.70,118.50 L385.37,120.90 L383.70,123.31 L382.04,120.90 Z" fill="#d8961c" stroke="#302000" stroke-width="0.6"/>
<path d="M389.50,119.69 L391.17,122.10 L389.50,124.50 L387.84,122.10 Z" fill="#d8961c" stroke="#302000" stroke-width="0.6"/>
<path d="M390.47,121.59 L392.14,124.00 L390.47,126.41 L388.81,124.00 Z" fill="#d8961c" stroke="#302000" stroke-width="0.6"/>
<path d="M400.14,125.30 L401.81,127.70 L400.14,130.10 L398.47,127.70 Z" fill="#d8961c" stroke="#302000" stroke-width="0.6"/>
<path d="M409.81,125.90 L411.48,128.30 L409.81,130.71 L408.14,128.30 Z" fill="#d8961c" stroke="#302000" stroke-width="0.6"/>
<path d="M419.48,126.90 L421.15,129.30 L419.48,131.71 L417.81,129.30 Z" fill="#d8961c" stroke="#302000" stroke-width="0.6"/>
<path d="M477.50,135.90 L479.17,138.30 L477.50,140.71 L475.83,138.30 Z" fill="#d8961c" stroke="#302000" stroke-width="0.6"/>
<rect x="376.60" y="43.30" width="106.40" height="104.10" fill="none" stroke="#262626" stroke-width="1.3"/>
<line x1="380.80" y1="147.40" x2="380.80" y2="149.90" stroke="#333" stroke-width="0.9"/>
<text x="380.80" y="157.35" font-family='"Liberation Sans", sans-serif' font-size="8.3" font-weight="bold" fill="#111" text-anchor="middle" stroke="#111" stroke-width="0.18" textLength="4.80" lengthAdjust="spacingAndGlyphs" >0</text>
<line x1="429.15" y1="147.40" x2="429.15" y2="149.90" stroke="#333" stroke-width="0.9"/>
<text x="429.15" y="157.35" font-family='"Liberation Sans", sans-serif' font-size="8.3" font-weight="bold" fill="#111" text-anchor="middle" stroke="#111" stroke-width="0.18" textLength="9.90" lengthAdjust="spacingAndGlyphs" >50</text>
<line x1="477.50" y1="147.40" x2="477.50" y2="149.90" stroke="#333" stroke-width="0.9"/>
<text x="477.50" y="157.35" font-family='"Liberation Sans", sans-serif' font-size="8.3" font-weight="bold" fill="#111" text-anchor="middle" stroke="#111" stroke-width="0.18" textLength="15.30" lengthAdjust="spacingAndGlyphs" >100</text>
<line x1="374.10" y1="43.30" x2="376.60" y2="43.30" stroke="#333" stroke-width="0.9"/>
<text x="372.30" y="46.60" font-family='"Liberation Sans", sans-serif' font-size="8.3" font-weight="bold" fill="#111" text-anchor="end" stroke="#111" stroke-width="0.18" textLength="23.00" lengthAdjust="spacingAndGlyphs" >0.070</text>
<line x1="374.10" y1="95.20" x2="376.60" y2="95.20" stroke="#333" stroke-width="0.9"/>
<text x="372.30" y="98.50" font-family='"Liberation Sans", sans-serif' font-size="8.3" font-weight="bold" fill="#111" text-anchor="end" stroke="#111" stroke-width="0.18" textLength="23.00" lengthAdjust="spacingAndGlyphs" >0.040</text>
<line x1="374.10" y1="147.40" x2="376.60" y2="147.40" stroke="#333" stroke-width="0.9"/>
<text x="372.30" y="150.70" font-family='"Liberation Sans", sans-serif' font-size="8.3" font-weight="bold" fill="#111" text-anchor="end" stroke="#111" stroke-width="0.18" textLength="23.00" lengthAdjust="spacingAndGlyphs" >0.010</text>
<rect x="443.30" y="46.20" width="36.40" height="40.80" rx="1.5" fill="#fff" fill-opacity="0.85" stroke="#e8e8e8" stroke-width="0.8"/>
<line x1="446.00" y1="51.80" x2="459.20" y2="51.80" stroke="#5858ec" stroke-width="1"/>
<rect x="451.00" y="50.20" width="3.20" height="3.20" fill="#0000c0" stroke="#000030" stroke-width="0.5"/>
<text x="463.40" y="54.70" font-family='"Liberation Sans", sans-serif' font-size="8.1" font-weight="bold" fill="#111" text-anchor="start" stroke="#111" stroke-width="0.12" textLength="8.20" lengthAdjust="spacingAndGlyphs" >10</text>
<line x1="446.00" y1="61.60" x2="459.20" y2="61.60" stroke="#5ce6e6" stroke-width="1"/>
<circle cx="452.60" cy="61.60" r="1.60" fill="#20d8d8" stroke="#002828" stroke-width="0.6"/>
<text x="463.40" y="64.50" font-family='"Liberation Sans", sans-serif' font-size="8.1" font-weight="bold" fill="#111" text-anchor="start" stroke="#111" stroke-width="0.12" textLength="8.20" lengthAdjust="spacingAndGlyphs" >40</text>
<line x1="446.00" y1="71.00" x2="459.20" y2="71.00" stroke="#e06464" stroke-width="1"/>
<path d="M450.84,69.72 L454.36,69.72 L452.60,72.92 Z" fill="#a00010" stroke="#280000" stroke-width="0.5"/>
<text x="463.40" y="73.90" font-family='"Liberation Sans", sans-serif' font-size="8.1" font-weight="bold" fill="#111" text-anchor="start" stroke="#111" stroke-width="0.12" textLength="13.00" lengthAdjust="spacingAndGlyphs" >100</text>
<line x1="446.00" y1="80.50" x2="459.20" y2="80.50" stroke="#f4c870" stroke-width="1"/>
<path d="M452.60,78.42 L454.04,80.50 L452.60,82.58 L451.16,80.50 Z" fill="#d8961c" stroke="#302000" stroke-width="0.6"/>
<text x="463.40" y="83.40" font-family='"Liberation Sans", sans-serif' font-size="8.1" font-weight="bold" fill="#111" text-anchor="start" stroke="#111" stroke-width="0.12" textLength="13.00" lengthAdjust="spacingAndGlyphs" >500</text>
<text x="417.60" y="59.00" font-family='"Liberation Serif", serif' font-size="13" font-weight="bold" fill="#5a5a5a" text-anchor="start" textLength="15.90" lengthAdjust="spacingAndGlyphs" >(a)</text>
<text x="406.50" y="81.70" font-family='"Liberation Serif", serif' font-size="11.2" font-weight="bold" fill="#14a256" text-anchor="start" textLength="33.50" lengthAdjust="spacingAndGlyphs" >ER-HD</text>
<text x="0" y="0" transform="translate(346.90,96.60) rotate(-90)" font-family='"Liberation Sans", sans-serif' font-size="8.2" font-weight="bold" fill="#111" stroke="#111" stroke-width="0.15" text-anchor="middle" textLength="16.8" lengthAdjust="spacingAndGlyphs">MSE</text>
<path d="M525.26,51.00 L526.21,57.70 L529.08,85.60 L531.96,94.60 L533.87,97.50 L543.44,97.70 L553.01,97.10 L562.58,98.10 L620.00,97.50" fill="none" stroke="#5858ec" stroke-width="1.15" stroke-linejoin="round"/>
<path d="M525.26,53.00 L527.17,62.60 L529.08,88.00 L531.96,98.00 L533.87,101.30 L543.44,101.30 L553.01,100.90 L562.58,102.60 L620.00,102.70" fill="none" stroke="#5ce6e6" stroke-width="1.15" stroke-linejoin="round"/>
<path d="M525.26,50.50 L526.21,62.00 L528.13,96.00 L531.96,102.00 L533.87,103.60 L543.44,104.60 L553.01,104.40 L562.58,107.10 L620.00,106.70" fill="none" stroke="#e06464" stroke-width="1.15" stroke-linejoin="round"/>
<path d="M525.26,58.10 L527.17,86.20 L528.13,104.60 L532.91,115.00 L533.87,115.80 L543.44,119.90 L553.01,120.90 L562.58,122.80 L620.00,121.80" fill="none" stroke="#f4c870" stroke-width="1.15" stroke-linejoin="round"/>
<rect x="523.41" y="49.15" width="3.70" height="3.70" fill="#0000c0" stroke="#000030" stroke-width="0.5"/>
<rect x="524.36" y="55.85" width="3.70" height="3.70" fill="#0000c0" stroke="#000030" stroke-width="0.5"/>
<rect x="527.23" y="83.75" width="3.70" height="3.70" fill="#0000c0" stroke="#000030" stroke-width="0.5"/>
<rect x="530.11" y="92.75" width="3.70" height="3.70" fill="#0000c0" stroke="#000030" stroke-width="0.5"/>
<rect x="532.02" y="95.65" width="3.70" height="3.70" fill="#0000c0" stroke="#000030" stroke-width="0.5"/>
<rect x="541.59" y="95.85" width="3.70" height="3.70" fill="#0000c0" stroke="#000030" stroke-width="0.5"/>
<rect x="551.16" y="95.25" width="3.70" height="3.70" fill="#0000c0" stroke="#000030" stroke-width="0.5"/>
<rect x="560.73" y="96.25" width="3.70" height="3.70" fill="#0000c0" stroke="#000030" stroke-width="0.5"/>
<rect x="618.15" y="95.65" width="3.70" height="3.70" fill="#0000c0" stroke="#000030" stroke-width="0.5"/>
<circle cx="525.26" cy="53.00" r="1.85" fill="#20d8d8" stroke="#002828" stroke-width="0.6"/>
<circle cx="527.17" cy="62.60" r="1.85" fill="#20d8d8" stroke="#002828" stroke-width="0.6"/>
<circle cx="529.08" cy="88.00" r="1.85" fill="#20d8d8" stroke="#002828" stroke-width="0.6"/>
<circle cx="531.96" cy="98.00" r="1.85" fill="#20d8d8" stroke="#002828" stroke-width="0.6"/>
<circle cx="533.87" cy="101.30" r="1.85" fill="#20d8d8" stroke="#002828" stroke-width="0.6"/>
<circle cx="543.44" cy="101.30" r="1.85" fill="#20d8d8" stroke="#002828" stroke-width="0.6"/>
<circle cx="553.01" cy="100.90" r="1.85" fill="#20d8d8" stroke="#002828" stroke-width="0.6"/>
<circle cx="562.58" cy="102.60" r="1.85" fill="#20d8d8" stroke="#002828" stroke-width="0.6"/>
<circle cx="620.00" cy="102.70" r="1.85" fill="#20d8d8" stroke="#002828" stroke-width="0.6"/>
<path d="M523.22,49.02 L527.29,49.02 L525.26,52.72 Z" fill="#a00010" stroke="#280000" stroke-width="0.5"/>
<path d="M524.18,60.52 L528.25,60.52 L526.21,64.22 Z" fill="#a00010" stroke="#280000" stroke-width="0.5"/>
<path d="M526.09,94.52 L530.16,94.52 L528.13,98.22 Z" fill="#a00010" stroke="#280000" stroke-width="0.5"/>
<path d="M529.92,100.52 L533.99,100.52 L531.96,104.22 Z" fill="#a00010" stroke="#280000" stroke-width="0.5"/>
<path d="M531.84,102.12 L535.90,102.12 L533.87,105.82 Z" fill="#a00010" stroke="#280000" stroke-width="0.5"/>
<path d="M541.40,103.12 L545.47,103.12 L543.44,106.82 Z" fill="#a00010" stroke="#280000" stroke-width="0.5"/>
<path d="M550.98,102.92 L555.04,102.92 L553.01,106.62 Z" fill="#a00010" stroke="#280000" stroke-width="0.5"/>
<path d="M560.54,105.62 L564.61,105.62 L562.58,109.32 Z" fill="#a00010" stroke="#280000" stroke-width="0.5"/>
<path d="M617.97,105.22 L622.03,105.22 L620.00,108.92 Z" fill="#a00010" stroke="#280000" stroke-width="0.5"/>
<path d="M525.26,55.70 L526.92,58.10 L525.26,60.51 L523.59,58.10 Z" fill="#d8961c" stroke="#302000" stroke-width="0.6"/>
<path d="M527.17,83.80 L528.84,86.20 L527.17,88.61 L525.51,86.20 Z" fill="#d8961c" stroke="#302000" stroke-width="0.6"/>
<path d="M528.13,102.19 L529.79,104.60 L528.13,107.00 L526.46,104.60 Z" fill="#d8961c" stroke="#302000" stroke-width="0.6"/>
<path d="M532.91,112.59 L534.58,115.00 L532.91,117.41 L531.25,115.00 Z" fill="#d8961c" stroke="#302000" stroke-width="0.6"/>
<path d="M533.87,113.39 L535.53,115.80 L533.87,118.20 L532.21,115.80 Z" fill="#d8961c" stroke="#302000" stroke-width="0.6"/>
<path d="M543.44,117.50 L545.10,119.90 L543.44,122.31 L541.77,119.90 Z" fill="#d8961c" stroke="#302000" stroke-width="0.6"/>
<path d="M553.01,118.50 L554.67,120.90 L553.01,123.31 L551.35,120.90 Z" fill="#d8961c" stroke="#302000" stroke-width="0.6"/>
<path d="M562.58,120.39 L564.24,122.80 L562.58,125.20 L560.91,122.80 Z" fill="#d8961c" stroke="#302000" stroke-width="0.6"/>
<path d="M620.00,119.39 L621.66,121.80 L620.00,124.20 L618.34,121.80 Z" fill="#d8961c" stroke="#302000" stroke-width="0.6"/>
<rect x="521.00" y="43.40" width="104.00" height="101.00" fill="none" stroke="#262626" stroke-width="1.3"/>
<line x1="524.30" y1="144.40" x2="524.30" y2="146.90" stroke="#333" stroke-width="0.9"/>
<text x="524.30" y="154.35" font-family='"Liberation Sans", sans-serif' font-size="8.3" font-weight="bold" fill="#111" text-anchor="middle" stroke="#111" stroke-width="0.18" textLength="4.80" lengthAdjust="spacingAndGlyphs" >0</text>
<line x1="572.15" y1="144.40" x2="572.15" y2="146.90" stroke="#333" stroke-width="0.9"/>
<text x="572.15" y="154.35" font-family='"Liberation Sans", sans-serif' font-size="8.3" font-weight="bold" fill="#111" text-anchor="middle" stroke="#111" stroke-width="0.18" textLength="9.90" lengthAdjust="spacingAndGlyphs" >50</text>
<line x1="620.00" y1="144.40" x2="620.00" y2="146.90" stroke="#333" stroke-width="0.9"/>
<text x="620.00" y="154.35" font-family='"Liberation Sans", sans-serif' font-size="8.3" font-weight="bold" fill="#111" text-anchor="middle" stroke="#111" stroke-width="0.18" textLength="15.30" lengthAdjust="spacingAndGlyphs" >100</text>
<line x1="518.50" y1="43.40" x2="521.00" y2="43.40" stroke="#333" stroke-width="0.9"/>
<text x="516.80" y="46.70" font-family='"Liberation Sans", sans-serif' font-size="8.3" font-weight="bold" fill="#111" text-anchor="end" stroke="#111" stroke-width="0.18" textLength="23.00" lengthAdjust="spacingAndGlyphs" >0.070</text>
<line x1="518.50" y1="93.90" x2="521.00" y2="93.90" stroke="#333" stroke-width="0.9"/>
<text x="516.80" y="97.20" font-family='"Liberation Sans", sans-serif' font-size="8.3" font-weight="bold" fill="#111" text-anchor="end" stroke="#111" stroke-width="0.18" textLength="23.00" lengthAdjust="spacingAndGlyphs" >0.040</text>
<line x1="518.50" y1="144.40" x2="521.00" y2="144.40" stroke="#333" stroke-width="0.9"/>
<text x="516.80" y="147.70" font-family='"Liberation Sans", sans-serif' font-size="8.3" font-weight="bold" fill="#111" text-anchor="end" stroke="#111" stroke-width="0.18" textLength="23.00" lengthAdjust="spacingAndGlyphs" >0.010</text>
<rect x="586.20" y="46.90" width="35.60" height="38.90" rx="1.5" fill="#fff" fill-opacity="0.85" stroke="#e8e8e8" stroke-width="0.8"/>
<line x1="588.30" y1="51.80" x2="601.40" y2="51.80" stroke="#5858ec" stroke-width="1"/>
<rect x="593.25" y="50.20" width="3.20" height="3.20" fill="#0000c0" stroke="#000030" stroke-width="0.5"/>
<text x="606.30" y="54.70" font-family='"Liberation Sans", sans-serif' font-size="8.1" font-weight="bold" fill="#111" text-anchor="start" stroke="#111" stroke-width="0.12" textLength="8.20" lengthAdjust="spacingAndGlyphs" >10</text>
<line x1="588.30" y1="61.20" x2="601.40" y2="61.20" stroke="#5ce6e6" stroke-width="1"/>
<circle cx="594.85" cy="61.20" r="1.60" fill="#20d8d8" stroke="#002828" stroke-width="0.6"/>
<text x="606.30" y="64.10" font-family='"Liberation Sans", sans-serif' font-size="8.1" font-weight="bold" fill="#111" text-anchor="start" stroke="#111" stroke-width="0.12" textLength="8.20" lengthAdjust="spacingAndGlyphs" >40</text>
<line x1="588.30" y1="70.60" x2="601.40" y2="70.60" stroke="#e06464" stroke-width="1"/>
<path d="M593.09,69.32 L596.61,69.32 L594.85,72.52 Z" fill="#a00010" stroke="#280000" stroke-width="0.5"/>
<text x="606.30" y="73.50" font-family='"Liberation Sans", sans-serif' font-size="8.1" font-weight="bold" fill="#111" text-anchor="start" stroke="#111" stroke-width="0.12" textLength="13.00" lengthAdjust="spacingAndGlyphs" >100</text>
<line x1="588.30" y1="79.70" x2="601.40" y2="79.70" stroke="#f4c870" stroke-width="1"/>
<path d="M594.85,77.62 L596.29,79.70 L594.85,81.78 L593.41,79.70 Z" fill="#d8961c" stroke="#302000" stroke-width="0.6"/>
<text x="606.30" y="82.60" font-family='"Liberation Sans", sans-serif' font-size="8.1" font-weight="bold" fill="#111" text-anchor="start" stroke="#111" stroke-width="0.12" textLength="13.00" lengthAdjust="spacingAndGlyphs" >500</text>
<text x="564.30" y="60.20" font-family='"Liberation Serif", serif' font-size="13" font-weight="bold" fill="#5a5a5a" text-anchor="start" textLength="15.80" lengthAdjust="spacingAndGlyphs" >(b)</text>
<text x="551.50" y="80.90" font-family='"Liberation Serif", serif' font-size="11.2" font-weight="bold" fill="#14a256" text-anchor="start" textLength="31.90" lengthAdjust="spacingAndGlyphs" >ER-LD</text>
<path d="M382.16,183.70 L383.13,230.70 L385.05,247.00 L388.90,256.20 L390.83,257.50 L400.46,262.10 L410.09,264.00 L419.72,264.50 L477.50,261.00" fill="none" stroke="#5858ec" stroke-width="1.15" stroke-linejoin="round"/>
<path d="M382.16,183.70 L383.13,237.20 L385.05,249.00 L388.90,257.20 L390.83,259.00 L400.46,263.00 L410.09,264.50 L419.72,263.60 L477.50,262.50" fill="none" stroke="#5ce6e6" stroke-width="1.15" stroke-linejoin="round"/>
<path d="M382.16,187.60 L383.13,240.00 L385.05,253.30 L388.90,258.00 L390.83,261.50 L400.46,263.50 L410.09,263.60 L419.72,264.80 L477.50,264.00" fill="none" stroke="#e06464" stroke-width="1.15" stroke-linejoin="round"/>
<path d="M382.16,205.90 L383.13,242.50 L384.09,254.20 L385.05,261.50 L390.83,266.60 L400.46,269.30 L410.09,269.30 L419.72,269.30 L477.50,272.50" fill="none" stroke="#f4c870" stroke-width="1.15" stroke-linejoin="round"/>
<rect x="380.31" y="181.85" width="3.70" height="3.70" fill="#0000c0" stroke="#000030" stroke-width="0.5"/>
<rect x="381.28" y="228.85" width="3.70" height="3.70" fill="#0000c0" stroke="#000030" stroke-width="0.5"/>
<rect x="383.20" y="245.15" width="3.70" height="3.70" fill="#0000c0" stroke="#000030" stroke-width="0.5"/>
<rect x="387.05" y="254.35" width="3.70" height="3.70" fill="#0000c0" stroke="#000030" stroke-width="0.5"/>
<rect x="388.98" y="255.65" width="3.70" height="3.70" fill="#0000c0" stroke="#000030" stroke-width="0.5"/>
<rect x="398.61" y="260.25" width="3.70" height="3.70" fill="#0000c0" stroke="#000030" stroke-width="0.5"/>
<rect x="408.24" y="262.15" width="3.70" height="3.70" fill="#0000c0" stroke="#000030" stroke-width="0.5"/>
<rect x="417.87" y="262.65" width="3.70" height="3.70" fill="#0000c0" stroke="#000030" stroke-width="0.5"/>
<rect x="475.65" y="259.15" width="3.70" height="3.70" fill="#0000c0" stroke="#000030" stroke-width="0.5"/>
<circle cx="382.16" cy="183.70" r="1.85" fill="#20d8d8" stroke="#002828" stroke-width="0.6"/>
<circle cx="383.13" cy="237.20" r="1.85" fill="#20d8d8" stroke="#002828" stroke-width="0.6"/>
<circle cx="385.05" cy="249.00" r="1.85" fill="#20d8d8" stroke="#002828" stroke-width="0.6"/>
<circle cx="388.90" cy="257.20" r="1.85" fill="#20d8d8" stroke="#002828" stroke-width="0.6"/>
<circle cx="390.83" cy="259.00" r="1.85" fill="#20d8d8" stroke="#002828" stroke-width="0.6"/>
<circle cx="400.46" cy="263.00" r="1.85" fill="#20d8d8" stroke="#002828" stroke-width="0.6"/>
<circle cx="410.09" cy="264.50" r="1.85" fill="#20d8d8" stroke="#002828" stroke-width="0.6"/>
<circle cx="419.72" cy="263.60" r="1.85" fill="#20d8d8" stroke="#002828" stroke-width="0.6"/>
<circle cx="477.50" cy="262.50" r="1.85" fill="#20d8d8" stroke="#002828" stroke-width="0.6"/>
<path d="M380.13,186.12 L384.20,186.12 L382.16,189.82 Z" fill="#a00010" stroke="#280000" stroke-width="0.5"/>
<path d="M381.09,238.52 L385.16,238.52 L383.13,242.22 Z" fill="#a00010" stroke="#280000" stroke-width="0.5"/>
<path d="M383.02,251.82 L387.09,251.82 L385.05,255.52 Z" fill="#a00010" stroke="#280000" stroke-width="0.5"/>
<path d="M386.87,256.52 L390.94,256.52 L388.90,260.22 Z" fill="#a00010" stroke="#280000" stroke-width="0.5"/>
<path d="M388.79,260.02 L392.87,260.02 L390.83,263.72 Z" fill="#a00010" stroke="#280000" stroke-width="0.5"/>
<path d="M398.42,262.02 L402.50,262.02 L400.46,265.72 Z" fill="#a00010" stroke="#280000" stroke-width="0.5"/>
<path d="M408.05,262.12 L412.12,262.12 L410.09,265.82 Z" fill="#a00010" stroke="#280000" stroke-width="0.5"/>
<path d="M417.69,263.32 L421.76,263.32 L419.72,267.02 Z" fill="#a00010" stroke="#280000" stroke-width="0.5"/>
<path d="M475.46,262.52 L479.54,262.52 L477.50,266.22 Z" fill="#a00010" stroke="#280000" stroke-width="0.5"/>
<path d="M382.16,203.50 L383.83,205.90 L382.16,208.31 L380.50,205.90 Z" fill="#d8961c" stroke="#302000" stroke-width="0.6"/>
<path d="M383.13,240.09 L384.79,242.50 L383.13,244.91 L381.46,242.50 Z" fill="#d8961c" stroke="#302000" stroke-width="0.6"/>
<path d="M384.09,251.79 L385.75,254.20 L384.09,256.60 L382.42,254.20 Z" fill="#d8961c" stroke="#302000" stroke-width="0.6"/>
<path d="M385.05,259.10 L386.72,261.50 L385.05,263.90 L383.39,261.50 Z" fill="#d8961c" stroke="#302000" stroke-width="0.6"/>
<path d="M390.83,264.20 L392.50,266.60 L390.83,269.00 L389.16,266.60 Z" fill="#d8961c" stroke="#302000" stroke-width="0.6"/>
<path d="M400.46,266.90 L402.12,269.30 L400.46,271.70 L398.79,269.30 Z" fill="#d8961c" stroke="#302000" stroke-width="0.6"/>
<path d="M410.09,266.90 L411.75,269.30 L410.09,271.70 L408.42,269.30 Z" fill="#d8961c" stroke="#302000" stroke-width="0.6"/>
<path d="M419.72,266.90 L421.39,269.30 L419.72,271.70 L418.06,269.30 Z" fill="#d8961c" stroke="#302000" stroke-width="0.6"/>
<path d="M477.50,270.10 L479.17,272.50 L477.50,274.90 L475.83,272.50 Z" fill="#d8961c" stroke="#302000" stroke-width="0.6"/>
<rect x="377.30" y="170.20" width="105.10" height="105.50" fill="none" stroke="#262626" stroke-width="1.3"/>
<line x1="381.20" y1="275.70" x2="381.20" y2="278.20" stroke="#333" stroke-width="0.9"/>
<text x="381.20" y="286.15" font-family='"Liberation Sans", sans-serif' font-size="8.3" font-weight="bold" fill="#111" text-anchor="middle" stroke="#111" stroke-width="0.18" textLength="4.80" lengthAdjust="spacingAndGlyphs" >0</text>
<line x1="429.35" y1="275.70" x2="429.35" y2="278.20" stroke="#333" stroke-width="0.9"/>
<text x="429.35" y="286.15" font-family='"Liberation Sans", sans-serif' font-size="8.3" font-weight="bold" fill="#111" text-anchor="middle" stroke="#111" stroke-width="0.18" textLength="9.90" lengthAdjust="spacingAndGlyphs" >50</text>
<line x1="477.50" y1="275.70" x2="477.50" y2="278.20" stroke="#333" stroke-width="0.9"/>
<text x="477.50" y="286.15" font-family='"Liberation Sans", sans-serif' font-size="8.3" font-weight="bold" fill="#111" text-anchor="middle" stroke="#111" stroke-width="0.18" textLength="15.30" lengthAdjust="spacingAndGlyphs" >100</text>
<line x1="374.80" y1="170.20" x2="377.30" y2="170.20" stroke="#333" stroke-width="0.9"/>
<text x="373.10" y="173.50" font-family='"Liberation Sans", sans-serif' font-size="8.3" font-weight="bold" fill="#111" text-anchor="end" stroke="#111" stroke-width="0.18" textLength="23.00" lengthAdjust="spacingAndGlyphs" >0.045</text>
<line x1="374.80" y1="221.60" x2="377.30" y2="221.60" stroke="#333" stroke-width="0.9"/>
<text x="373.10" y="224.90" font-family='"Liberation Sans", sans-serif' font-size="8.3" font-weight="bold" fill="#111" text-anchor="end" stroke="#111" stroke-width="0.18" textLength="23.00" lengthAdjust="spacingAndGlyphs" >0.025</text>
<line x1="374.80" y1="273.10" x2="377.30" y2="273.10" stroke="#333" stroke-width="0.9"/>
<text x="373.10" y="276.40" font-family='"Liberation Sans", sans-serif' font-size="8.3" font-weight="bold" fill="#111" text-anchor="end" stroke="#111" stroke-width="0.18" textLength="23.00" lengthAdjust="spacingAndGlyphs" >0.005</text>
<rect x="443.30" y="173.60" width="36.40" height="40.80" rx="1.5" fill="#fff" fill-opacity="0.85" stroke="#e8e8e8" stroke-width="0.8"/>
<line x1="446.00" y1="179.30" x2="459.20" y2="179.30" stroke="#5858ec" stroke-width="1"/>
<rect x="451.00" y="177.70" width="3.20" height="3.20" fill="#0000c0" stroke="#000030" stroke-width="0.5"/>
<text x="463.40" y="182.20" font-family='"Liberation Sans", sans-serif' font-size="8.1" font-weight="bold" fill="#111" text-anchor="start" stroke="#111" stroke-width="0.12" textLength="8.20" lengthAdjust="spacingAndGlyphs" >10</text>
<line x1="446.00" y1="189.10" x2="459.20" y2="189.10" stroke="#5ce6e6" stroke-width="1"/>
<circle cx="452.60" cy="189.10" r="1.60" fill="#20d8d8" stroke="#002828" stroke-width="0.6"/>
<text x="463.40" y="192.00" font-family='"Liberation Sans", sans-serif' font-size="8.1" font-weight="bold" fill="#111" text-anchor="start" stroke="#111" stroke-width="0.12" textLength="8.20" lengthAdjust="spacingAndGlyphs" >40</text>
<line x1="446.00" y1="198.90" x2="459.20" y2="198.90" stroke="#e06464" stroke-width="1"/>
<path d="M450.84,197.62 L454.36,197.62 L452.60,200.82 Z" fill="#a00010" stroke="#280000" stroke-width="0.5"/>
<text x="463.40" y="201.80" font-family='"Liberation Sans", sans-serif' font-size="8.1" font-weight="bold" fill="#111" text-anchor="start" stroke="#111" stroke-width="0.12" textLength="13.00" lengthAdjust="spacingAndGlyphs" >100</text>
<line x1="446.00" y1="208.70" x2="459.20" y2="208.70" stroke="#f4c870" stroke-width="1"/>
<path d="M452.60,206.62 L454.04,208.70 L452.60,210.78 L451.16,208.70 Z" fill="#d8961c" stroke="#302000" stroke-width="0.6"/>
<text x="463.40" y="211.60" font-family='"Liberation Sans", sans-serif' font-size="8.1" font-weight="bold" fill="#111" text-anchor="start" stroke="#111" stroke-width="0.12" textLength="13.00" lengthAdjust="spacingAndGlyphs" >500</text>
<text x="418.00" y="189.40" font-family='"Liberation Serif", serif' font-size="13" font-weight="bold" fill="#5a5a5a" text-anchor="start" textLength="15.20" lengthAdjust="spacingAndGlyphs" >(c)</text>
<text x="407.40" y="208.40" font-family='"Liberation Serif", serif' font-size="11.2" font-weight="bold" fill="#14a256" text-anchor="start" textLength="32.60" lengthAdjust="spacingAndGlyphs" >SF-HD</text>
<text x="0" y="0" transform="translate(347.70,224.10) rotate(-90)" font-family='"Liberation Sans", sans-serif' font-size="8.2" font-weight="bold" fill="#111" stroke="#111" stroke-width="0.15" text-anchor="middle" textLength="16.8" lengthAdjust="spacingAndGlyphs">MSE</text>
<text x="429.60" y="299.00" font-family='"Liberation Sans", sans-serif' font-size="13.6" font-weight="bold" fill="#111" text-anchor="middle" stroke="#111" stroke-width="0.4" textLength="6.50" lengthAdjust="spacingAndGlyphs" >n</text>
<path d="M524.47,192.00 L526.40,224.80 L528.34,247.40 L531.24,252.30 L533.17,252.50 L542.84,253.30 L552.51,256.20 L562.18,257.00 L620.20,261.70" fill="none" stroke="#5858ec" stroke-width="1.15" stroke-linejoin="round"/>
<path d="M524.47,191.20 L526.40,226.80 L528.34,245.00 L531.24,256.20 L533.17,256.00 L542.84,254.80 L552.51,256.20 L562.18,256.20 L620.20,261.50" fill="none" stroke="#5ce6e6" stroke-width="1.15" stroke-linejoin="round"/>
<path d="M524.47,199.50 L525.43,235.60 L528.34,256.20 L531.24,260.10 L533.17,259.50 L542.84,256.00 L552.51,258.00 L562.18,258.50 L620.20,264.00" fill="none" stroke="#e06464" stroke-width="1.15" stroke-linejoin="round"/>
<path d="M524.47,222.00 L525.43,239.90 L527.37,262.10 L531.24,265.00 L533.17,265.00 L542.84,264.60 L552.51,265.00 L562.18,265.40 L620.20,272.80" fill="none" stroke="#f4c870" stroke-width="1.15" stroke-linejoin="round"/>
<rect x="522.62" y="190.15" width="3.70" height="3.70" fill="#0000c0" stroke="#000030" stroke-width="0.5"/>
<rect x="524.55" y="222.95" width="3.70" height="3.70" fill="#0000c0" stroke="#000030" stroke-width="0.5"/>
<rect x="526.49" y="245.55" width="3.70" height="3.70" fill="#0000c0" stroke="#000030" stroke-width="0.5"/>
<rect x="529.39" y="250.45" width="3.70" height="3.70" fill="#0000c0" stroke="#000030" stroke-width="0.5"/>
<rect x="531.32" y="250.65" width="3.70" height="3.70" fill="#0000c0" stroke="#000030" stroke-width="0.5"/>
<rect x="540.99" y="251.45" width="3.70" height="3.70" fill="#0000c0" stroke="#000030" stroke-width="0.5"/>
<rect x="550.66" y="254.35" width="3.70" height="3.70" fill="#0000c0" stroke="#000030" stroke-width="0.5"/>
<rect x="560.33" y="255.15" width="3.70" height="3.70" fill="#0000c0" stroke="#000030" stroke-width="0.5"/>
<rect x="618.35" y="259.85" width="3.70" height="3.70" fill="#0000c0" stroke="#000030" stroke-width="0.5"/>
<circle cx="524.47" cy="191.20" r="1.85" fill="#20d8d8" stroke="#002828" stroke-width="0.6"/>
<circle cx="526.40" cy="226.80" r="1.85" fill="#20d8d8" stroke="#002828" stroke-width="0.6"/>
<circle cx="528.34" cy="245.00" r="1.85" fill="#20d8d8" stroke="#002828" stroke-width="0.6"/>
<circle cx="531.24" cy="256.20" r="1.85" fill="#20d8d8" stroke="#002828" stroke-width="0.6"/>
<circle cx="533.17" cy="256.00" r="1.85" fill="#20d8d8" stroke="#002828" stroke-width="0.6"/>
<circle cx="542.84" cy="254.80" r="1.85" fill="#20d8d8" stroke="#002828" stroke-width="0.6"/>
<circle cx="552.51" cy="256.20" r="1.85" fill="#20d8d8" stroke="#002828" stroke-width="0.6"/>
<circle cx="562.18" cy="256.20" r="1.85" fill="#20d8d8" stroke="#002828" stroke-width="0.6"/>
<circle cx="620.20" cy="261.50" r="1.85" fill="#20d8d8" stroke="#002828" stroke-width="0.6"/>
<path d="M522.43,198.02 L526.50,198.02 L524.47,201.72 Z" fill="#a00010" stroke="#280000" stroke-width="0.5"/>
<path d="M523.40,234.12 L527.47,234.12 L525.43,237.82 Z" fill="#a00010" stroke="#280000" stroke-width="0.5"/>
<path d="M526.30,254.72 L530.37,254.72 L528.34,258.42 Z" fill="#a00010" stroke="#280000" stroke-width="0.5"/>
<path d="M529.20,258.62 L533.27,258.62 L531.24,262.32 Z" fill="#a00010" stroke="#280000" stroke-width="0.5"/>
<path d="M531.13,258.02 L535.20,258.02 L533.17,261.72 Z" fill="#a00010" stroke="#280000" stroke-width="0.5"/>
<path d="M540.81,254.52 L544.88,254.52 L542.84,258.22 Z" fill="#a00010" stroke="#280000" stroke-width="0.5"/>
<path d="M550.48,256.52 L554.54,256.52 L552.51,260.22 Z" fill="#a00010" stroke="#280000" stroke-width="0.5"/>
<path d="M560.15,257.02 L564.22,257.02 L562.18,260.72 Z" fill="#a00010" stroke="#280000" stroke-width="0.5"/>
<path d="M618.17,262.52 L622.24,262.52 L620.20,266.22 Z" fill="#a00010" stroke="#280000" stroke-width="0.5"/>
<path d="M524.47,219.59 L526.13,222.00 L524.47,224.41 L522.80,222.00 Z" fill="#d8961c" stroke="#302000" stroke-width="0.6"/>
<path d="M525.43,237.50 L527.10,239.90 L525.43,242.31 L523.77,239.90 Z" fill="#d8961c" stroke="#302000" stroke-width="0.6"/>
<path d="M527.37,259.70 L529.03,262.10 L527.37,264.50 L525.70,262.10 Z" fill="#d8961c" stroke="#302000" stroke-width="0.6"/>
<path d="M531.24,262.60 L532.90,265.00 L531.24,267.40 L529.57,265.00 Z" fill="#d8961c" stroke="#302000" stroke-width="0.6"/>
<path d="M533.17,262.60 L534.83,265.00 L533.17,267.40 L531.50,265.00 Z" fill="#d8961c" stroke="#302000" stroke-width="0.6"/>
<path d="M542.84,262.20 L544.50,264.60 L542.84,267.00 L541.18,264.60 Z" fill="#d8961c" stroke="#302000" stroke-width="0.6"/>
<path d="M552.51,262.60 L554.17,265.00 L552.51,267.40 L550.85,265.00 Z" fill="#d8961c" stroke="#302000" stroke-width="0.6"/>
<path d="M562.18,263.00 L563.85,265.40 L562.18,267.80 L560.52,265.40 Z" fill="#d8961c" stroke="#302000" stroke-width="0.6"/>
<path d="M620.20,270.40 L621.87,272.80 L620.20,275.20 L618.54,272.80 Z" fill="#d8961c" stroke="#302000" stroke-width="0.6"/>
<rect x="520.00" y="171.30" width="105.20" height="104.40" fill="none" stroke="#262626" stroke-width="1.3"/>
<line x1="523.50" y1="275.70" x2="523.50" y2="278.20" stroke="#333" stroke-width="0.9"/>
<text x="523.50" y="286.25" font-family='"Liberation Sans", sans-serif' font-size="8.3" font-weight="bold" fill="#111" text-anchor="middle" stroke="#111" stroke-width="0.18" textLength="4.80" lengthAdjust="spacingAndGlyphs" >0</text>
<line x1="571.85" y1="275.70" x2="571.85" y2="278.20" stroke="#333" stroke-width="0.9"/>
<text x="571.85" y="286.25" font-family='"Liberation Sans", sans-serif' font-size="8.3" font-weight="bold" fill="#111" text-anchor="middle" stroke="#111" stroke-width="0.18" textLength="9.90" lengthAdjust="spacingAndGlyphs" >50</text>
<line x1="620.20" y1="275.70" x2="620.20" y2="278.20" stroke="#333" stroke-width="0.9"/>
<text x="620.20" y="286.25" font-family='"Liberation Sans", sans-serif' font-size="8.3" font-weight="bold" fill="#111" text-anchor="middle" stroke="#111" stroke-width="0.18" textLength="15.30" lengthAdjust="spacingAndGlyphs" >100</text>
<line x1="517.50" y1="171.30" x2="520.00" y2="171.30" stroke="#333" stroke-width="0.9"/>
<text x="515.70" y="174.60" font-family='"Liberation Sans", sans-serif' font-size="8.3" font-weight="bold" fill="#111" text-anchor="end" stroke="#111" stroke-width="0.18" textLength="23.00" lengthAdjust="spacingAndGlyphs" >0.045</text>
<line x1="517.50" y1="222.30" x2="520.00" y2="222.30" stroke="#333" stroke-width="0.9"/>
<text x="515.70" y="225.60" font-family='"Liberation Sans", sans-serif' font-size="8.3" font-weight="bold" fill="#111" text-anchor="end" stroke="#111" stroke-width="0.18" textLength="23.00" lengthAdjust="spacingAndGlyphs" >0.025</text>
<line x1="517.50" y1="273.10" x2="520.00" y2="273.10" stroke="#333" stroke-width="0.9"/>
<text x="515.70" y="276.40" font-family='"Liberation Sans", sans-serif' font-size="8.3" font-weight="bold" fill="#111" text-anchor="end" stroke="#111" stroke-width="0.18" textLength="23.00" lengthAdjust="spacingAndGlyphs" >0.005</text>
<rect x="585.80" y="174.90" width="36.00" height="40.00" rx="1.5" fill="#fff" fill-opacity="0.85" stroke="#e8e8e8" stroke-width="0.8"/>
<line x1="588.30" y1="180.10" x2="601.40" y2="180.10" stroke="#5858ec" stroke-width="1"/>
<rect x="593.25" y="178.50" width="3.20" height="3.20" fill="#0000c0" stroke="#000030" stroke-width="0.5"/>
<text x="606.30" y="183.00" font-family='"Liberation Sans", sans-serif' font-size="8.1" font-weight="bold" fill="#111" text-anchor="start" stroke="#111" stroke-width="0.12" textLength="8.20" lengthAdjust="spacingAndGlyphs" >10</text>
<line x1="588.30" y1="190.10" x2="601.40" y2="190.10" stroke="#5ce6e6" stroke-width="1"/>
<circle cx="594.85" cy="190.10" r="1.60" fill="#20d8d8" stroke="#002828" stroke-width="0.6"/>
<text x="606.30" y="193.00" font-family='"Liberation Sans", sans-serif' font-size="8.1" font-weight="bold" fill="#111" text-anchor="start" stroke="#111" stroke-width="0.12" textLength="8.20" lengthAdjust="spacingAndGlyphs" >40</text>
<line x1="588.30" y1="199.70" x2="601.40" y2="199.70" stroke="#e06464" stroke-width="1"/>
<path d="M593.09,198.42 L596.61,198.42 L594.85,201.62 Z" fill="#a00010" stroke="#280000" stroke-width="0.5"/>
<text x="606.30" y="202.60" font-family='"Liberation Sans", sans-serif' font-size="8.1" font-weight="bold" fill="#111" text-anchor="start" stroke="#111" stroke-width="0.12" textLength="13.00" lengthAdjust="spacingAndGlyphs" >100</text>
<line x1="588.30" y1="209.20" x2="601.40" y2="209.20" stroke="#f4c870" stroke-width="1"/>
<path d="M594.85,207.12 L596.29,209.20 L594.85,211.28 L593.41,209.20 Z" fill="#d8961c" stroke="#302000" stroke-width="0.6"/>
<text x="606.30" y="212.10" font-family='"Liberation Sans", sans-serif' font-size="8.1" font-weight="bold" fill="#111" text-anchor="start" stroke="#111" stroke-width="0.12" textLength="13.00" lengthAdjust="spacingAndGlyphs" >500</text>
<text x="561.00" y="191.20" font-family='"Liberation Serif", serif' font-size="13" font-weight="bold" fill="#5a5a5a" text-anchor="start" textLength="16.40" lengthAdjust="spacingAndGlyphs" >(d)</text>
<text x="551.20" y="211.70" font-family='"Liberation Serif", serif' font-size="11.2" font-weight="bold" fill="#14a256" text-anchor="start" textLength="31.10" lengthAdjust="spacingAndGlyphs" >SF-LD</text>
<text x="572.60" y="299.50" font-family='"Liberation Sans", sans-serif' font-size="13.6" font-weight="bold" fill="#111" text-anchor="middle" stroke="#111" stroke-width="0.4" textLength="6.50" lengthAdjust="spacingAndGlyphs" >n</text>
</svg>
</body></html>
